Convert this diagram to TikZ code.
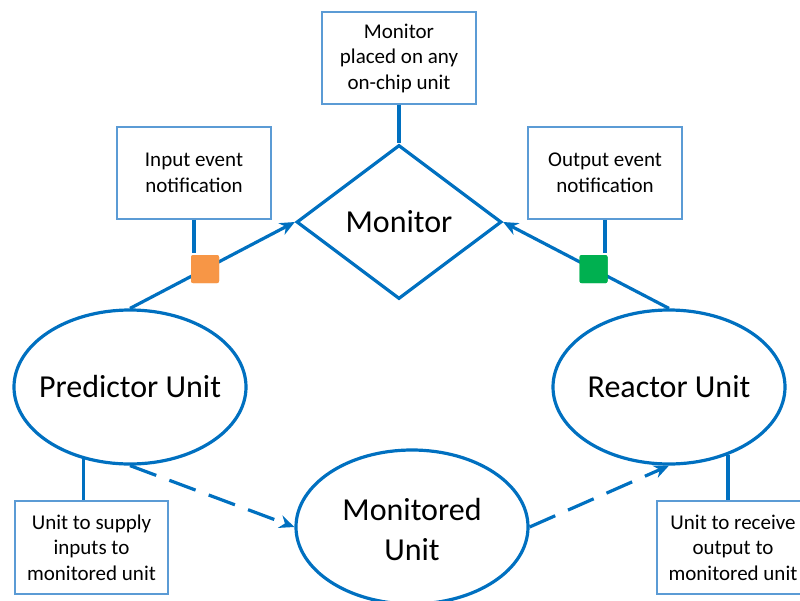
\documentclass[tikz,border=0pt]{standalone}
\usepackage{fontspec}
\setmainfont{Carlito}
\usetikzlibrary{shapes.geometric,arrows.meta}

\definecolor{linkblue}{HTML}{0070C0}
\definecolor{boxblue}{HTML}{5B9BD5}
\definecolor{inorange}{HTML}{F79646}
\definecolor{outgreen}{HTML}{00B050}

\begin{document}
\begin{tikzpicture}[x=1pt,y=-1pt,
  unit/.style={ellipse, draw=linkblue, line width=3.2pt, inner sep=0pt,
    minimum width=232pt, minimum height=154pt},
  unittext/.style={align=center, inner sep=0pt, font=\fontsize{32}{40}\selectfont},
  decision/.style={diamond, draw=linkblue, line width=3.2pt, inner sep=0pt,
    minimum width=205pt, minimum height=154pt,
    font=\fontsize{32}{40}\selectfont},
  note/.style={rectangle, draw=boxblue, line width=1.5pt, inner sep=0pt,
    minimum width=154pt, minimum height=92pt, align=center,
    font=\fontsize{21}{25.5}\selectfont},
  event/.style={rectangle, rounded corners=2pt, inner sep=0pt,
    minimum size=28pt},
  link/.style={draw=linkblue, line width=3.2pt},
  flow/.style={link, -{Stealth[length=15pt,width=13pt]}},
  dataflow/.style={flow, dash pattern=on 28pt off 14pt}
]
\useasboundingbox (0,0) rectangle (800,600);
\clip (0,0) rectangle (800,600);

% units and the monitor
\node[decision] (monitor) at (399,222) {Monitor};
\node[unit] (pred) at (130,387) {};
\node[unittext] (predlabel) at (pred) {Predictor Unit};
\node[unit] (reac) at (669,387) {};
\node[unittext] (reaclabel) at (reac) {Reactor Unit};
\node[unit] (mon) at (412,527) {};
\node[unittext] (monlabel) at (412,529) {Monitored\\Unit};

% explanatory notes
\node[note] (place) at (399,58) {Monitor\\placed on any\\on-chip unit};
\node[note] (innote) at (194,173) {Input event\\notification};
\node[note] (outnote) at (605,173) {Output event\\notification};
\node[note, minimum width=153pt, minimum height=93pt] (supply) at (91.5,547.5) {Unit to supply\\inputs to\\monitored unit};
\node[note, minimum width=152pt, minimum height=93pt] (receive) at (733,547.5) {Unit to receive\\output to\\monitored unit};

% event notifications towards the monitor
\draw[flow] (pred.north) -- node[pos=0.455, event, fill=inorange] (inev) {} (monitor.west);
\draw[flow] (reac.north) -- node[pos=0.455, event, fill=outgreen] (outev) {} (monitor.east);

% note leaders
\draw[link] (place.south) -- (monitor.north);
\draw[link] (innote.south) -- (innote.south |- inev.north);
\draw[link] (outnote.south) -- (outnote.south |- outev.north);
\draw[link] (pred.237) -- (pred.237 |- supply.north);
\draw[link] (reac.311) -- (reac.311 |- receive.north);

% data through the monitored unit
\draw[dataflow] (pred.south) -- (mon.west);
\draw[dataflow] (mon.east) -- (reac.south);

% event markers on top of their leaders
\node[event, fill=inorange] at (inev) {};
\node[event, fill=outgreen] at (outev) {};
\end{tikzpicture}
\end{document}
